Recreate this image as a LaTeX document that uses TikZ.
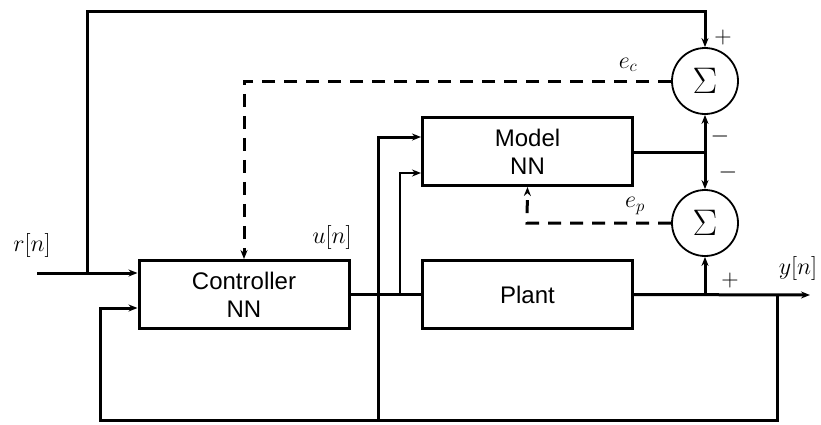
\RequirePackage{fix-cm}
\documentclass[tikz,border=0pt]{standalone}
\usepackage{fontspec}
\setmainfont{Liberation Sans}
\usetikzlibrary{arrows.meta}
\begin{document}
\begin{tikzpicture}[x=1pt,y=-1pt,
  blk/.style={draw,line width=3pt,minimum width=210pt,minimum height=68pt,inner sep=0pt,align=center,font=\fontsize{24}{28}\selectfont},
  sumnode/.style={draw,circle,line width=1.8pt,minimum size=66pt,inner sep=0pt,font=\fontsize{37}{40}\selectfont},
  wire/.style={line width=3pt},
  thinwire/.style={line width=2pt},
  arr/.style={-{Stealth[length=9pt,width=7pt]}},
  dsh/.style={line width=3pt,dash pattern=on 13pt off 9pt},
  lbl/.style={inner sep=0pt,font=\fontsize{24}{28}\selectfont}]
\useasboundingbox (0,0) rectangle (821,424);
% blocks
\node[blk] (ctrl) at (244,294.5) {Controller\\NN};
\node[blk] (model) at (527.5,151.5) {Model\\NN};
\node[blk] (plant) at (527.5,294.5) {Plant};
\node[sumnode] (s1) at (705,81) {$\Sigma$};
\node[sumnode] (s2) at (705,223) {$\Sigma$};
% coordinates
\coordinate (rin) at (37,273);
\coordinate (jr) at (87,273);
\coordinate (tl) at (87,11);
\coordinate (tr) at (705,11);
\coordinate (mj) at (705,152);
\coordinate (yj) at (705,295);
\coordinate (yout) at (810,295);
\coordinate (fbr) at (777,295);
\coordinate (fbbr) at (777,420);
\coordinate (fbbl) at (100,420);
\coordinate (fbl) at (100,308);
\coordinate (b1) at (378,420);
\coordinate (b1t) at (378,137);
\coordinate (b2) at (400,295);
\coordinate (b2t) at (400,173);
\coordinate (ec) at (244,81);
\coordinate (ep) at (527,223);
% connectors
\draw[wire,arr] (rin) -- (rin -| ctrl.west);
\draw[wire,arr] (jr) -- (tl) -- (tr) -- (s1.north);
\draw[wire] (ctrl.east) -- (plant.west);
\draw[wire,arr] (plant.east) -- (yout);
\draw[wire,arr] (fbr) -- (fbbr) -- (fbbl) -- (fbl) -- (fbl -| ctrl.west);
\draw[wire,arr] (b1) -- (b1t) -- (b1t -| model.west);
\draw[thinwire,arr] (b2) -- (b2t) -- (b2t -| model.west);
\draw[wire] (model.east |- mj) -- (mj);
\draw[wire,arr] (mj) -- (s1.south);
\draw[wire,arr] (mj) -- (s2.north);
\draw[wire,arr] (yj) -- (s2.south);
\draw[dsh,arr] (s1.west) -- (ec) -- (ctrl.north);
\draw[dsh,arr] (s2.west) -- (ep) -- (model.south);
% labels
\node[lbl] (lr) at (32,245) {$r[n]$};
\node[lbl] (lu) at (332,237) {$u[n]$};
\node[lbl] (lec) at (628,65) {$e_c$};
\node[lbl] (lep) at (635,206) {$e_p$};
\node[lbl] (ly) at (798,268) {$y[n]$};
\node[lbl] (p1) at (723,37) {$+$};
\node[lbl] (m1) at (720,136) {$-$};
\node[lbl] (m2) at (728,172) {$-$};
\node[lbl] (p2) at (730,280) {$+$};
\end{tikzpicture}
\end{document}
